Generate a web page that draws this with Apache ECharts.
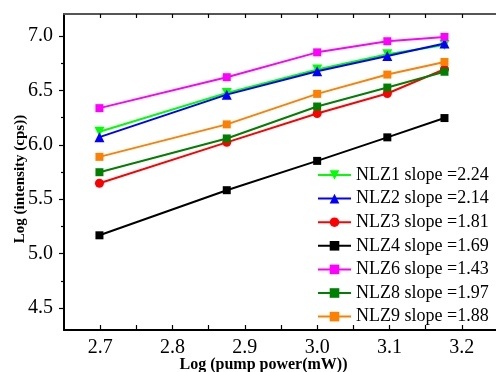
<!DOCTYPE html>
<html>
<head>
<meta charset="utf-8">
<script src="https://cdn.jsdelivr.net/npm/echarts@6/dist/echarts.min.js"></script>
<style>html,body{margin:0;padding:0;background:#fff}#c{width:496px;height:372px}</style>
</head>
<body>
<div id="c"></div>
<script>
const xValues = [2.699, 2.875, 3.0, 3.097, 3.176];
const seriesNames = ['NLZ1 slope =2.24','NLZ2 slope =2.14','NLZ3 slope =1.81','NLZ4 slope =1.69','NLZ6 slope =1.43','NLZ8 slope =1.97','NLZ9 slope =1.88'];
const nlz1 = [6.12, 6.475, 6.69, 6.83, 6.915];
const nlz2 = [6.07, 6.46, 6.675, 6.815, 6.93];
const nlz3 = [5.647, 6.022, 6.287, 6.47, 6.693];
const nlz4 = [5.169, 5.583, 5.852, 6.068, 6.245];
const nlz6 = [6.336, 6.62, 6.848, 6.95, 6.99];
const nlz8 = [5.748, 6.058, 6.351, 6.525, 6.67];
const nlz9 = [5.889, 6.187, 6.467, 6.644, 6.76];
const xTickLabels = [2.7, 2.8, 2.9, 3.0, 3.1, 3.2];
const xTicks = [2.7, 2.75, 2.8, 2.85, 2.9, 2.95, 3.0, 3.05, 3.1, 3.15, 3.2];
const yTickLabels = [4.5, 5.0, 5.5, 6.0, 6.5, 7.0];
const yMinorTicks = [4.75, 5.25, 5.75, 6.25, 6.75];

const font = "'Liberation Serif','Times New Roman',serif";
const allY = [nlz1, nlz2, nlz3, nlz4, nlz6, nlz8, nlz9];
const colors = ['#00ff00', '#0000ff', '#ff0000', '#000000', '#ff00ff', '#008000', '#ff8000'];
const symbols = ['triangle', 'triangle', 'circle', 'rect', 'rect', 'rect', 'rect'];
const rot = [180, 0, 0, 0, 0, 0, 0];
const sizes = [10, 10, 9, 8, 8, 8, 8];

const chart = echarts.init(document.getElementById('c'));
chart.setOption({
  animation: false,
  grid: { left: 64, top: 14, width: 434, height: 316, containLabel: false, outerBoundsMode: 'none' },
  legend: {
    orient: 'vertical', left: 317, top: 166, padding: 0,
    itemWidth: 33, itemHeight: 12, itemGap: 5.6,
    textStyle: { fontFamily: font, fontSize: 18, color: '#000', lineHeight: 18 },
    data: seriesNames
  },
  xAxis: [{
    type: 'value', min: 2.65, max: 3.25, position: 'bottom',
    name: 'Log (pump power(mW))', nameLocation: 'middle', nameGap: 27, nameMoveOverlap: false,
    nameTextStyle: { fontFamily: font, fontSize: 16, fontWeight: 'bold', color: '#000', padding: [0, 35, 0, 0] },
    axisLine: { lineStyle: { color: '#000', width: 2 } },
    axisTick: { inside: true, length: 5, customValues: xTicks, lineStyle: { color: '#000', width: 1.2 } },
    axisLabel: { customValues: xTickLabels, formatter: v => v.toFixed(1), margin: 8, fontFamily: font, fontSize: 20, color: '#000' },
    splitLine: { show: false }
  }, {
    type: 'value', min: 2.65, max: 3.25, position: 'top',
    axisLine: { show: true, lineStyle: { color: '#555', width: 2 } },
    axisTick: { inside: true, length: 4, customValues: xTicks, lineStyle: { color: '#000', width: 1.2 } },
    axisLabel: { show: false }, splitLine: { show: false }
  }],
  yAxis: [{
    type: 'value', min: 4.3, max: 7.2, position: 'left',
    name: 'Log (intensity (cps))', nameLocation: 'middle', nameGap: 36, nameRotate: 90, nameMoveOverlap: false,
    nameTextStyle: { fontFamily: font, fontSize: 15, fontWeight: 'bold', color: '#000', padding: [0, 14, 0, 0] },
    axisLine: { show: true, lineStyle: { color: '#000', width: 2 } },
    axisTick: { show: true, inside: false, length: 5, customValues: yTickLabels, lineStyle: { color: '#000', width: 1.2 } },
    axisLabel: { customValues: yTickLabels, formatter: v => v.toFixed(1), margin: 11, fontFamily: font, fontSize: 20, color: '#000' },
    splitLine: { show: false }
  }, {
    type: 'value', min: 4.3, max: 7.2, position: 'left',
    axisLine: { show: false },
    axisTick: { show: true, inside: false, length: 3, customValues: yMinorTicks, lineStyle: { color: '#000', width: 1.2 } },
    axisLabel: { show: false }, splitLine: { show: false }
  }],
  series: allY.map((ys, i) => ({
    name: seriesNames[i], type: 'line',
    data: xValues.map((x, j) => [x, ys[j]]),
    color: colors[i],
    symbol: symbols[i], symbolSize: sizes[i], symbolRotate: rot[i],
    showAllSymbol: true,
    lineStyle: { width: 2, color: colors[i] },
    itemStyle: { color: colors[i] },
    z: 2 + i
  }))
});
</script>
</body>
</html>
